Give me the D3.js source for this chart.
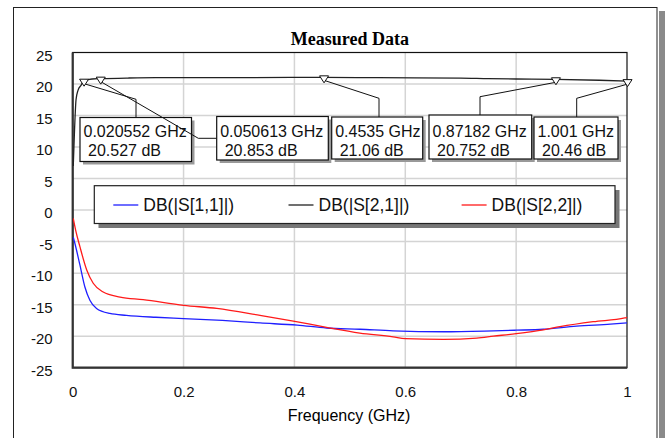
<!DOCTYPE html>
<html>
<head>
<meta charset="utf-8">
<script src="https://cdn.jsdelivr.net/npm/d3@7"></script>
<style>
  body { margin: 0; background: #fff; }
  text { font-family: "Liberation Sans", Arial, sans-serif; }
</style>
</head>
<body>
<div id="plot"></div>
<script>
const X_TICKS = [0, 0.2, 0.4, 0.6, 0.8, 1]
const Y_TICKS = [-25, -20, -15, -10, -5, 0, 5, 10, 15, 20, 25]

const SERIES_NAMES = ["DB(|S[1,1]|)", "DB(|S[2,1]|)", "DB(|S[2,2]|)"]
const SERIES_COLORS = ["#1f1fff", "#222222", "#ff1a1a"]

// S11 (blue)
const S11_F = [0.001, 0.004, 0.013, 0.022, 0.031, 0.043, 0.067, 0.097, 0.15, 0.2, 0.27, 0.338, 0.405, 0.458, 0.518, 0.578, 0.669, 0.759, 0.8, 0.849, 0.909, 0.97, 1.0]
const S11_DB = [-4.3, -5.3, -8.7, -12.2, -14.3, -15.6, -16.4, -16.7, -17.0, -17.2, -17.5, -17.9, -18.25, -18.7, -18.9, -19.15, -19.3, -19.15, -19.05, -18.9, -18.4, -18.1, -17.9]

// S21 (black)
const S21_F = [0.001, 0.003, 0.006, 0.0096, 0.015, 0.020552, 0.035, 0.050613, 0.1, 0.15, 0.2, 0.3, 0.4535, 0.55, 0.7, 0.75, 0.8, 0.87182, 0.95, 1.001]
const S21_DB = [7, 12, 17.5, 19, 19.8, 20.527, 20.8, 20.853, 20.95, 21.0, 21.0, 21.02, 21.06, 21.0, 20.95, 20.85, 20.8, 20.752, 20.6, 20.46]

// S22 (red)
const S22_F = [0.001, 0.0054, 0.013, 0.0253, 0.037, 0.055, 0.0855, 0.127, 0.2, 0.26, 0.338, 0.398, 0.458, 0.518, 0.578, 0.6, 0.669, 0.729, 0.759, 0.8, 0.849, 0.879, 0.939, 0.996, 1.0]
const S22_DB = [-1.3, -3.2, -5.8, -9.5, -11.6, -13.0, -13.8, -14.2, -15.1, -15.6, -16.7, -17.6, -18.6, -19.5, -20.1, -20.4, -20.5, -20.3, -20.0, -19.6, -19.0, -18.5, -17.7, -17.1, -17.0]

// markers on S21
const MARKER_F = [0.020552, 0.050613, 0.4535, 0.87182, 1.001]
const MARKER_DB = [20.527, 20.853, 21.06, 20.752, 20.46]
const MARKER_LABELS = ["0.020552 GHz", "0.050613 GHz", "0.4535 GHz", "0.87182 GHz", "1.001 GHz"]
const MARKER_VALUES = ["20.527 dB", "20.853 dB", "21.06 dB", "20.752 dB", "20.46 dB"]

// annotation box layout (pixels): left, right, top, bottom, leader elbow
const BOXES = [
  {x0: 80, x1: 191.5, y0: 117.5, y1: 161.5, elbow: [136, 99.3], end: [136, 117.5]},
  {x0: 216.7, x1: 328.3, y0: 116.5, y1: 160, elbow: [198.3, 138.3], end: [216.7, 138.3]},
  {x0: 331.7, x1: 422.7, y0: 117, y1: 159, elbow: [379, 98.3], end: [379, 117]},
  {x0: 429, x1: 531.7, y0: 115, y1: 159, elbow: [480, 96.7], end: [480, 115]},
  {x0: 534, x1: 618, y0: 117, y1: 159, elbow: [576.7, 98.3], end: [576.7, 117]}
]

const width = 665, height = 438
const plotL = 72.7, plotR = 627, plotT = 52.5, plotB = 367.7

let svg = d3.select("#plot")
  .append("svg")
    .attr("width", width)
    .attr("height", height)

// outer frame + shadow
svg.append("rect")
  .attr("x", 659).attr("y", 11).attr("width", 6).attr("height", height)
  .style("fill", "#8a8a8a")
svg.append("rect")
  .attr("x", 13.5).attr("y", 7.5).attr("width", 643.5).attr("height", height)
  .style("fill", "#fff").style("stroke", "#222").style("stroke-width", 1)

let x = d3.scaleLinear().domain([0, 1]).range([plotL, plotR])
let y = d3.scaleLinear().domain([-25, 25]).range([plotB, plotT])

// grid
svg.append("g")
  .selectAll("line")
  .data(X_TICKS.slice(1, -1))
  .enter().append("line")
    .attr("x1", d => x(d)).attr("x2", d => x(d))
    .attr("y1", plotT).attr("y2", plotB)
    .style("stroke", "#d4d4d4").style("stroke-width", 1.5)
svg.append("g")
  .selectAll("line")
  .data(Y_TICKS.slice(1, -1))
  .enter().append("line")
    .attr("x1", plotL).attr("x2", plotR)
    .attr("y1", d => y(d)).attr("y2", d => y(d))
    .style("stroke", "#d4d4d4").style("stroke-width", 1.5)

// axes (labels only), plain hyphen minus like the original
let xAxis = svg.append("g")
  .attr("transform", "translate(0," + plotB + ")")
  .call(d3.axisBottom(x).tickValues(X_TICKS).tickSize(0).tickPadding(19).tickFormat(d => String(d)))
let yAxis = svg.append("g")
  .attr("transform", "translate(" + plotL + ",0)")
  .call(d3.axisLeft(y).tickValues(Y_TICKS).tickSize(0).tickPadding(20).tickFormat(d => String(d)))
xAxis.select(".domain").remove()
yAxis.select(".domain").remove()
svg.selectAll(".tick text")
  .style("font-size", "15px")
  .style("font-family", "'Liberation Sans', Arial, sans-serif")
  .style("fill", "#111")
yAxis.selectAll(".tick text").attr("dy", "0.5em")

// plot border
svg.append("rect")
  .attr("x", plotL).attr("y", plotT).attr("width", plotR - plotL).attr("height", plotB - plotT)
  .style("fill", "none").style("stroke", "#111").style("stroke-width", 1.2)
svg.append("path")
  .attr("d", "M" + plotL + "," + plotT + "V" + plotB + "H" + plotR)
  .style("fill", "none").style("stroke", "#333").style("stroke-width", 2.2)

// title and axis label
svg.append("text")
  .attr("x", (plotL + plotR) / 2).attr("y", 45)
  .style("text-anchor", "middle")
  .style("font-family", "'Liberation Serif', 'Times New Roman', serif")
  .style("font-weight", "bold")
  .style("font-size", "18px")
  .text("Measured Data")
svg.append("text")
  .attr("x", 349).attr("y", 421)
  .style("text-anchor", "middle")
  .style("font-size", "16px")
  .text("Frequency (GHz)")

// curves
let line = d3.line().x(d => x(d[0])).y(d => y(d[1])).curve(d3.curveMonotoneX)
let curves = [
  d3.zip(S11_F, S11_DB),
  d3.zip(S21_F, S21_DB),
  d3.zip(S22_F, S22_DB)
]
let clip = svg.append("clipPath").attr("id", "clip")
clip.append("rect").attr("x", plotL).attr("y", plotT - 10).attr("width", plotR - plotL + 3).attr("height", plotB - plotT + 10)
svg.append("g")
  .attr("clip-path", "url(#clip)")
  .selectAll("path")
  .data(curves)
  .enter().append("path")
    .attr("d", line)
    .style("fill", "none")
    .style("stroke", (d, i) => SERIES_COLORS[i])
    .style("stroke-width", 1.3)

// legend
svg.append("rect")
  .attr("x", 98.5).attr("y", 190).attr("width", 521).attr("height", 38)
  .style("fill", "#777")
svg.append("rect")
  .attr("x", 94.3).attr("y", 185.7).attr("width", 520.7).attr("height", 37.8)
  .style("fill", "#fff").style("stroke", "#222").style("stroke-width", 1.2)
let legendX = [113.3, 288.5, 461.6]
SERIES_NAMES.forEach(function(name, i) {
  svg.append("line")
    .attr("x1", legendX[i]).attr("x2", legendX[i] + 25)
    .attr("y1", 205).attr("y2", 205)
    .style("stroke", SERIES_COLORS[i]).style("stroke-width", 1.3)
  svg.append("text")
    .attr("x", legendX[i] + 30).attr("y", 211)
    .style("font-size", "17.5px")
    .style("fill", "#111")
    .text(name)
})

// markers, leaders and boxes
MARKER_F.forEach(function(f, i) {
  let mx = x(f), my = y(MARKER_DB[i])
  let b = BOXES[i]
  svg.append("polyline")
    .attr("points", [[mx, my + 3], b.elbow, b.end].map(p => p.join(",")).join(" "))
    .style("fill", "none").style("stroke", "#111").style("stroke-width", 1)
  svg.append("path")
    .attr("d", "M" + (mx - 4.5) + "," + (my - 1.5) + "H" + (mx + 4.5) + "L" + mx + "," + (my + 5.5) + "Z")
    .style("fill", "#fff").style("stroke", "#111").style("stroke-width", 1)
  svg.append("rect")
    .attr("x", b.x0 + 3).attr("y", b.y0 + 3).attr("width", b.x1 - b.x0).attr("height", b.y1 - b.y0)
    .style("fill", "#999")
  svg.append("rect")
    .attr("x", b.x0).attr("y", b.y0).attr("width", b.x1 - b.x0).attr("height", b.y1 - b.y0)
    .style("fill", "#fff").style("stroke", "#111").style("stroke-width", 1.2)
  svg.append("text")
    .attr("x", b.x0 + 3.5).attr("y", 136.5)
    .style("font-size", "16px").style("fill", "#111")
    .text(MARKER_LABELS[i])
  svg.append("text")
    .attr("x", b.x0 + 8).attr("y", 155.5)
    .style("font-size", "16px").style("fill", "#111")
    .text(MARKER_VALUES[i])
})
</script>
</body>
</html>
